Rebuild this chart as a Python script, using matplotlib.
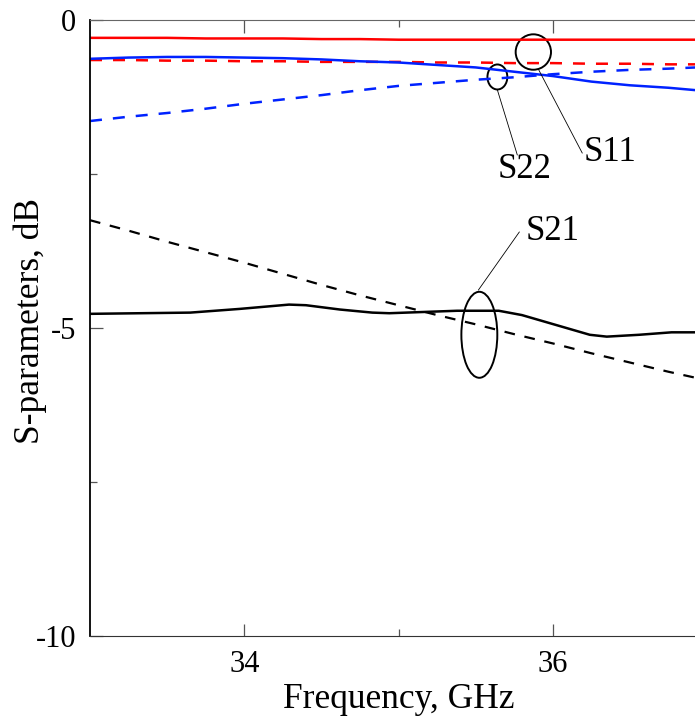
import matplotlib
matplotlib.use("Agg")
import matplotlib.pyplot as plt
from matplotlib.patches import Ellipse
from matplotlib.ticker import FixedLocator, NullFormatter

plt.rcParams["font.family"] = ["Liberation Serif", "DejaVu Serif"]

# frequency grid, GHz
freq = [33.0, 33.25, 33.5, 33.75, 34.0, 34.25, 34.5, 34.75, 35.0,
        35.25, 35.5, 35.75, 36.0, 36.25, 36.5, 36.75, 36.93]

# S11 (red), S22 (blue), S21 (black); solid = one set, dashed = other
s11_solid = [-0.29, -0.29, -0.29, -0.30, -0.30, -0.30, -0.31, -0.31, -0.32,
             -0.32, -0.32, -0.32, -0.32, -0.32, -0.32, -0.32, -0.32]
s11_dashed = [-0.65, -0.65, -0.66, -0.66, -0.67, -0.67, -0.68, -0.68, -0.68,
              -0.69, -0.69, -0.70, -0.70, -0.71, -0.71, -0.72, -0.72]
s22_solid = [-0.63, -0.61, -0.60, -0.60, -0.61, -0.62, -0.64, -0.67, -0.69,
             -0.73, -0.77, -0.84, -0.91, -1.00, -1.06, -1.10, -1.14]
s22_dashed = [-1.64, -1.57, -1.51, -1.44, -1.36, -1.29, -1.22, -1.14, -1.07,
              -1.02, -0.97, -0.93, -0.88, -0.84, -0.81, -0.79, -0.77]
s21_dashed = [-3.25, -3.42, -3.60, -3.77, -3.94, -4.12, -4.30, -4.47, -4.63,
              -4.79, -4.94, -5.10, -5.25, -5.41, -5.56, -5.71, -5.81]

# S21 solid read on its own, finer grid (it wiggles)
freq_s21 = [33.0, 33.65, 33.97, 34.29, 34.40, 34.62, 34.83, 34.94, 35.38,
            35.65, 35.80, 36.02, 36.24, 36.35, 36.56, 36.77, 36.93]
s21_solid = [-4.77, -4.75, -4.69, -4.62, -4.63, -4.70, -4.75, -4.76, -4.72,
             -4.72, -4.79, -4.95, -5.11, -5.14, -5.11, -5.07, -5.07]

DASH = (0, (4.8, 4.4))

fig = plt.figure(figsize=(6.95, 7.19), dpi=100, facecolor="white")
ax = fig.add_axes([0.1295, 0.1154, 0.8878, 0.8568])

ax.plot(freq, s11_solid, color="#ff0000", lw=1.8)
ax.plot(freq, s11_dashed, color="#ff0000", lw=1.8, ls=DASH)
ax.plot(freq, s22_solid, color="#0022ff", lw=1.8)
ax.plot(freq, s22_dashed, color="#0022ff", lw=1.8, ls=DASH)
ax.plot(freq_s21, s21_solid, color="black", lw=1.8)
ax.plot(freq, s21_dashed, color="black", lw=1.6, ls=DASH)

# annotation ellipses and leader lines
ax.add_patch(Ellipse((35.874, -0.52), 0.229, 0.575, fill=False, lw=1.4, ec="black"))
ax.add_patch(Ellipse((35.641, -0.925), 0.129, 0.406, fill=False, lw=1.4, ec="black"))
ax.add_patch(Ellipse((35.524, -5.11), 0.233, 1.396, fill=False, lw=1.4, ec="black"))
ax.plot([35.641, 35.770], [-1.136, -2.19], color="black", lw=0.6)
ax.plot([35.906, 36.191], [-0.795, -2.159], color="black", lw=0.6)
ax.plot([35.518, 35.783], [-4.383, -3.442], color="black", lw=0.6)
ax.text(35.814, -2.43, "S22", fontsize=25, ha="center", va="center")
ax.text(36.372, -2.15, "S11", fontsize=25, ha="center", va="center")
ax.text(35.997, -3.44, "S21", fontsize=25, ha="center", va="center")

ax.set_xlim(33, 37)
ax.set_ylim(-10, 0)
ax.set_xticks([34, 36])
ax.xaxis.set_minor_locator(FixedLocator([35, 37]))
ax.set_yticks([0, -5, -10])
ax.set_yticklabels(["0", "-5", "-10"])
ax.yaxis.set_minor_locator(FixedLocator([-2.5, -7.5]))
ax.xaxis.set_minor_formatter(NullFormatter())
ax.tick_params(which="both", direction="in", top=True, right=False,
               labelsize=22, color="#555555", width=0.9, pad=10)
ax.tick_params(which="major", length=9)
ax.tick_params(which="minor", length=5)
ax.spines["right"].set_visible(False)
ax.spines["top"].set_color("#666666")
ax.spines["bottom"].set_color("#333333")
ax.spines["left"].set_color("black")
ax.spines["left"].set_linewidth(1.3)

ax.set_xlabel("Frequency, GHz", fontsize=25.5, labelpad=3)
ax.set_ylabel("S-parameters, dB", fontsize=25.5)
ax.yaxis.set_label_coords(-0.070, 0.511)

fig.savefig("out.png", dpi=100, facecolor="white")
